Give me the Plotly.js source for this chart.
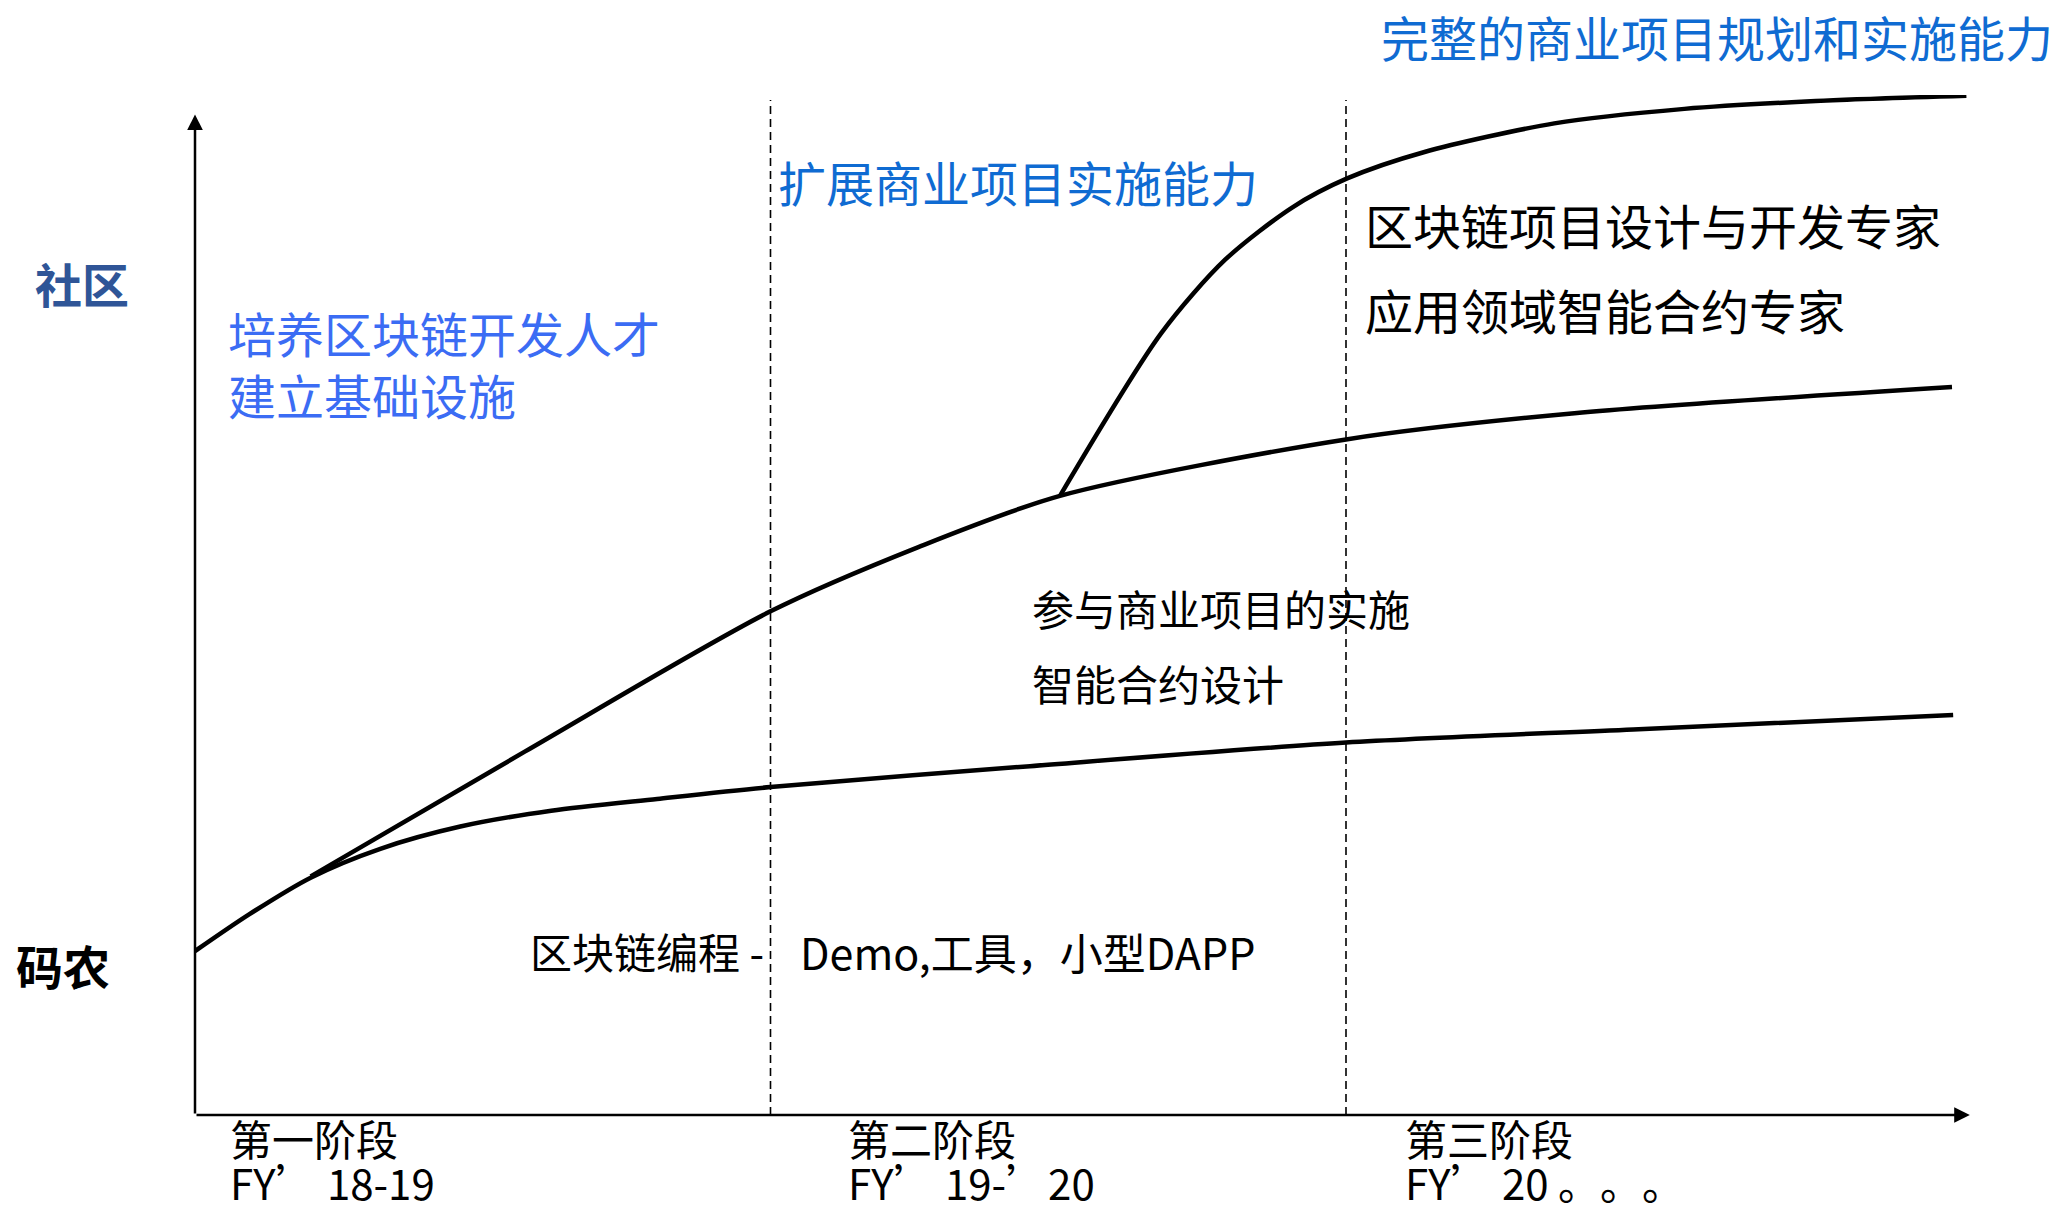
<!DOCTYPE html>
<html>
<head>
<meta charset="utf-8">
<script src="https://cdn.plot.ly/plotly-3.0.1.min.js"></script>
<style>
  html, body { margin: 0; padding: 0; background: #ffffff; }
  #chart { width: 2057px; height: 1215px; }
  svg text, svg tspan {
    text-spacing-trim: space-all;
    font-feature-settings: "chws" 0, "halt" 0, "palt" 0;
  }
</style>
</head>
<body>
<div id="chart"></div>
<script>
// ---- data (x: stage units, 1 unit = one stage; y: capability level 0-100) ----
const stageNames = ['第一阶段', '第二阶段', '第三阶段'];
const fyLabels = ['FY’ 18-19', 'FY’ 19-’20', 'FY’ 20 。。。'];
const stageBounds = [1, 2];

const coderX = [0, 0.094, 0.201, 0.322, 0.461, 0.619, 0.803, 1.0, 1.451, 2.0, 2.499, 3.055];
const coderY = [16.07, 19.67, 23.27, 26.10, 28.28, 29.83, 30.99, 32.15, 34.20, 36.52, 37.80, 39.22];

const implX = [0.201, 0.573, 1.0, 1.257, 1.503, 2.0, 2.397, 3.053];
const implY = [23.40, 35.62, 49.38, 55.68, 60.70, 66.23, 68.80, 71.37];

const expertX = [1.503, 1.679, 1.790, 1.907, 2.002, 2.135, 2.362, 2.588, 2.816, 3.078];
const expertY = [60.70, 76.65, 83.85, 88.99, 91.82, 94.39, 97.22, 98.64, 99.41, 99.92];

const levelLabels = ['码农', '社区'];
const levelValues = [14.5, 81.3];

const phaseGoals = ['培养区块链开发人才<br>建立基础设施', '扩展商业项目实施能力', '完整的商业项目规划和实施能力'];
const skillsStage1 = ['区块链编程 -', 'Demo,工具，小型DAPP'];
const skillsStage2 = ['参与商业项目的实施', '智能合约设计'];
const skillsStage3 = ['区块链项目设计与开发专家', '应用领域智能合约专家'];

// ---- axes ----
const XMAX = 3.0808, YMAX = 100;

// ---- styles ----
const FONT = '"Noto Sans CJK SC", "Microsoft YaHei", sans-serif';
const curveLine = { color: '#000000', width: 4.5, shape: 'spline', smoothing: 0.8 };

const traces = [
  { x: coderX, y: coderY, type: 'scatter', mode: 'lines', line: curveLine, hoverinfo: 'skip' },
  { x: implX, y: implY, type: 'scatter', mode: 'lines', line: curveLine, hoverinfo: 'skip' },
  { x: expertX, y: expertY, type: 'scatter', mode: 'lines', line: curveLine, hoverinfo: 'skip' }
];

// text placed by axis units, converted to paper fractions so it may sit outside the plot area
function txt(text, x, y, size, color) {
  return {
    text: text, x: x / XMAX, y: y / YMAX, xref: 'paper', yref: 'paper',
    xanchor: 'left', yanchor: 'middle', align: 'left', showarrow: false,
    xshift: -4, yshift: 3, borderpad: 0,
    font: { family: FONT, size: size, color: color }
  };
}

const BLUE_LIGHT = '#3b6cf4';
const BLUE = '#0f6bd2';
const BLUE_DARK = '#2f5597';

const annotations = [
  // axis arrows
  { x: 3.084, y: 0, ax: 0, ay: 0, xref: 'x', yref: 'y', axref: 'x', ayref: 'y', text: '',
    showarrow: true, arrowhead: 2, arrowsize: 1.25, arrowwidth: 2.5, arrowcolor: '#000000', standoff: 0 },
  { x: 0, y: 98.1, ax: 0, ay: 0, xref: 'x', yref: 'y', axref: 'x', ayref: 'y', text: '',
    showarrow: true, arrowhead: 2, arrowsize: 1.25, arrowwidth: 2.5, arrowcolor: '#000000', standoff: 0 },

  // level labels
  txt('<b>' + levelLabels[1] + '</b>', -0.272, levelValues[1], 47, BLUE_DARK),
  txt('<b>' + levelLabels[0] + '</b>', -0.305, levelValues[0], 47, '#000000'),

  // phase goals
  txt(phaseGoals[0], 0.0626, 73.4, 48, BLUE_LIGHT),
  txt(phaseGoals[1], 1.018, 91.3, 48, BLUE),
  txt(phaseGoals[2], 2.066, 105.5, 48, BLUE),

  // skills
  txt(skillsStage1[0], 0.587, 15.8, 42, '#000000'),
  txt(skillsStage1[1], 1.057, 15.8, 43, '#000000'),
  txt(skillsStage2[0], 1.46, 49.5, 42, '#000000'),
  txt(skillsStage2[1], 1.46, 42.1, 42, '#000000'),
  txt(skillsStage3[0], 2.038, 87.1, 48, '#000000'),
  txt(skillsStage3[1], 2.038, 78.7, 48, '#000000')
];

// stage labels under x axis
const stageLeft = [0.066, 1.14, 2.108];
stageNames.forEach(function (s, i) {
  annotations.push(txt(s, stageLeft[i], -2.5, 42, '#000000'));
  annotations.push(txt(fyLabels[i], stageLeft[i], -6.8, 42, '#000000'));
});

const shapes = stageBounds.map(function (b) {
  return {
    type: 'line', xref: 'x', yref: 'y', x0: b, x1: b, y0: 0, y1: 99.5,
    line: { color: '#000000', width: 1.6, dash: '8px,5px' }
  };
});

const layout = {
  width: 2057, height: 1215,
  margin: { l: 195, r: 89, t: 95, b: 100, pad: 0 },
  paper_bgcolor: '#ffffff', plot_bgcolor: '#ffffff',
  showlegend: false,
  xaxis: { range: [0, XMAX], showgrid: false, zeroline: false, showline: false,
           showticklabels: false, ticks: '', fixedrange: true },
  yaxis: { range: [0, YMAX], showgrid: false, zeroline: false, showline: false,
           showticklabels: false, ticks: '', fixedrange: true },
  annotations: annotations,
  shapes: shapes,
  font: { family: FONT }
};

Plotly.newPlot('chart', traces, layout, { displayModeBar: false, staticPlot: true });
</script>
</body>
</html>
